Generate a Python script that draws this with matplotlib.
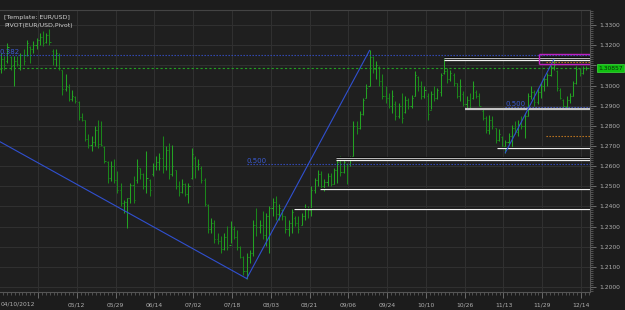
import matplotlib
matplotlib.use('Agg')
import matplotlib.pyplot as plt
from matplotlib.ticker import MultipleLocator, FixedLocator
from matplotlib.transforms import blended_transform_factory
import numpy as np

# ---------------- data (EUR/USD daily OHLC) ----------------
opens = [1.3080, 1.3130, 1.3120, 1.3140, 1.3100, 1.3120, 1.3100, 1.3150, 1.3150, 1.3190,
         1.3180, 1.3200, 1.3225, 1.3240, 1.3215, 1.3250, 1.3170, 1.3130, 1.3150, 1.3075,
         1.2985, 1.2995, 1.2935, 1.2945, 1.2920, 1.2845, 1.2828, 1.2735, 1.2705, 1.2720,
         1.2780, 1.2710, 1.2695, 1.2620, 1.2540, 1.2600, 1.2530, 1.2480, 1.2415, 1.2420,
         1.2440, 1.2505, 1.2530, 1.2590, 1.2560, 1.2500, 1.2530, 1.2560, 1.2600, 1.2620,
         1.2640, 1.2600, 1.2680, 1.2560, 1.2580, 1.2500, 1.2470, 1.2510, 1.2460, 1.2540,
         1.2640, 1.2600, 1.2590, 1.2530, 1.2405, 1.2290, 1.2320, 1.2240, 1.2230, 1.2190,
         1.2250, 1.2210, 1.2290, 1.2250, 1.2200, 1.2150, 1.2080, 1.2150, 1.2170, 1.2310,
         1.2300, 1.2310, 1.2260, 1.2350, 1.2390, 1.2420, 1.2360, 1.2380, 1.2350, 1.2290,
         1.2320, 1.2340, 1.2320, 1.2310, 1.2350, 1.2390, 1.2380, 1.2480, 1.2530, 1.2560,
         1.2500, 1.2520, 1.2550, 1.2510, 1.2580, 1.2620, 1.2570, 1.2610, 1.2610, 1.2650,
         1.2800, 1.2790, 1.2860, 1.2940, 1.3000, 1.3140, 1.3080, 1.3090, 1.3020, 1.2950,
         1.2940, 1.2900, 1.2910, 1.2850, 1.2900, 1.2870, 1.2930, 1.2900, 1.2950, 1.3040,
         1.3000, 1.2950, 1.2950, 1.2880, 1.2960, 1.2940, 1.2970, 1.3060, 1.3070, 1.3030,
         1.3050, 1.3010, 1.2950, 1.2960, 1.2910, 1.2930, 1.2940, 1.2970, 1.2950, 1.2875,
         1.2840, 1.2780, 1.2830, 1.2790, 1.2730, 1.2745, 1.2700, 1.2720, 1.2750, 1.2790,
         1.2770, 1.2810, 1.2800, 1.2850, 1.2950, 1.2970, 1.2920, 1.2970, 1.3000, 1.3030,
         1.3050, 1.3090, 1.3070, 1.2980, 1.2930, 1.2900, 1.2930, 1.2950, 1.3010, 1.3080,
         1.3060, 1.3085]
highs = [1.3162, 1.3146, 1.3212, 1.3146, 1.3146, 1.3146, 1.3162, 1.3179, 1.3228, 1.3195,
         1.3220, 1.3237, 1.3261, 1.3270, 1.3261, 1.3281, 1.3179, 1.3179, 1.3162, 1.3079,
         1.3055, 1.3005, 1.2980, 1.2947, 1.2922, 1.2864, 1.2831, 1.2757, 1.2749, 1.2798,
         1.2831, 1.2823, 1.2699, 1.2625, 1.2625, 1.2633, 1.2575, 1.2517, 1.2434, 1.2443,
         1.2517, 1.2550, 1.2633, 1.2591, 1.2567, 1.2674, 1.2534, 1.2616, 1.2649, 1.2666,
         1.2749, 1.2699, 1.2716, 1.2707, 1.2583, 1.2525, 1.2534, 1.2517, 1.2517, 1.2691,
         1.2649, 1.2633, 1.2600, 1.2542, 1.2410, 1.2343, 1.2335, 1.2269, 1.2252, 1.2269,
         1.2302, 1.2327, 1.2302, 1.2285, 1.2203, 1.2153, 1.2170, 1.2186, 1.2335, 1.2393,
         1.2335, 1.2376, 1.2368, 1.2401, 1.2443, 1.2451, 1.2410, 1.2385, 1.2352, 1.2335,
         1.2385, 1.2352, 1.2352, 1.2368, 1.2410, 1.2401, 1.2500, 1.2542, 1.2583, 1.2575,
         1.2534, 1.2567, 1.2567, 1.2591, 1.2633, 1.2649, 1.2641, 1.2616, 1.2649, 1.2823,
         1.2823, 1.2873, 1.2939, 1.3005, 1.3174, 1.3146, 1.3121, 1.3096, 1.3055, 1.2997,
         1.2964, 1.2980, 1.2922, 1.2914, 1.2964, 1.2947, 1.2939, 1.2955, 1.3071, 1.3046,
         1.3022, 1.2997, 1.2964, 1.2972, 1.2997, 1.2988, 1.3063, 1.3137, 1.3088, 1.3079,
         1.3063, 1.3013, 1.3030, 1.2972, 1.2947, 1.2964, 1.3022, 1.2980, 1.2964, 1.2881,
         1.2848, 1.2856, 1.2848, 1.2790, 1.2782, 1.2749, 1.2732, 1.2765, 1.2806, 1.2823,
         1.2831, 1.2848, 1.2864, 1.2964, 1.2997, 1.2980, 1.2988, 1.3013, 1.3046, 1.3063,
         1.3104, 1.3129, 1.3079, 1.2988, 1.2931, 1.2947, 1.2964, 1.3022, 1.3096, 1.3088,
         1.3096, 1.3096]
lows = [1.3063, 1.3079, 1.3112, 1.3079, 1.2997, 1.3096, 1.3079, 1.3104, 1.3146, 1.3112,
        1.3162, 1.3179, 1.3203, 1.3195, 1.3212, 1.3203, 1.3104, 1.3096, 1.3079, 1.2955,
        1.2972, 1.2922, 1.2922, 1.2914, 1.2831, 1.2823, 1.2724, 1.2691, 1.2674, 1.2699,
        1.2691, 1.2699, 1.2616, 1.2517, 1.2525, 1.2517, 1.2467, 1.2401, 1.2368, 1.2294,
        1.2418, 1.2418, 1.2517, 1.2534, 1.2484, 1.2467, 1.2451, 1.2550, 1.2583, 1.2583,
        1.2567, 1.2583, 1.2534, 1.2550, 1.2484, 1.2451, 1.2467, 1.2451, 1.2418, 1.2534,
        1.2542, 1.2583, 1.2517, 1.2401, 1.2269, 1.2269, 1.2219, 1.2211, 1.2170, 1.2186,
        1.2186, 1.2219, 1.2236, 1.2186, 1.2145, 1.2062, 1.2042, 1.2120, 1.2153, 1.2252,
        1.2269, 1.2236, 1.2203, 1.2170, 1.2352, 1.2335, 1.2335, 1.2335, 1.2269, 1.2252,
        1.2269, 1.2302, 1.2269, 1.2310, 1.2335, 1.2343, 1.2352, 1.2467, 1.2500, 1.2484,
        1.2476, 1.2500, 1.2500, 1.2509, 1.2517, 1.2550, 1.2567, 1.2509, 1.2600, 1.2649,
        1.2757, 1.2782, 1.2856, 1.2939, 1.2997, 1.3063, 1.3030, 1.2997, 1.2931, 1.2914,
        1.2889, 1.2864, 1.2831, 1.2840, 1.2815, 1.2864, 1.2881, 1.2889, 1.2947, 1.2972,
        1.2931, 1.2939, 1.2831, 1.2881, 1.2922, 1.2931, 1.2947, 1.3055, 1.3013, 1.3022,
        1.2997, 1.2939, 1.2922, 1.2897, 1.2889, 1.2881, 1.2931, 1.2939, 1.2897, 1.2831,
        1.2765, 1.2757, 1.2782, 1.2716, 1.2724, 1.2691, 1.2666, 1.2707, 1.2691, 1.2757,
        1.2749, 1.2782, 1.2740, 1.2848, 1.2931, 1.2897, 1.2906, 1.2939, 1.2972, 1.2997,
        1.3046, 1.3079, 1.2972, 1.2931, 1.2881, 1.2889, 1.2914, 1.2947, 1.3005, 1.3046,
        1.3055, 1.3079]
closes = [1.3130, 1.3100, 1.3190, 1.3095, 1.3120, 1.3105, 1.3150, 1.3120, 1.3210, 1.3180,
          1.3200, 1.3225, 1.3240, 1.3210, 1.3250, 1.3215, 1.3130, 1.3160, 1.3085, 1.2985,
          1.3000, 1.2935, 1.2950, 1.2925, 1.2845, 1.2830, 1.2735, 1.2705, 1.2720, 1.2780,
          1.2710, 1.2705, 1.2625, 1.2540, 1.2600, 1.2530, 1.2480, 1.2415, 1.2420, 1.2440,
          1.2505, 1.2430, 1.2600, 1.2560, 1.2500, 1.2540, 1.2480, 1.2600, 1.2620, 1.2640,
          1.2600, 1.2680, 1.2560, 1.2600, 1.2500, 1.2470, 1.2510, 1.2460, 1.2500, 1.2660,
          1.2600, 1.2610, 1.2530, 1.2410, 1.2290, 1.2320, 1.2240, 1.2230, 1.2190, 1.2250,
          1.2200, 1.2300, 1.2250, 1.2200, 1.2150, 1.2080, 1.2150, 1.2170, 1.2310, 1.2300,
          1.2310, 1.2260, 1.2350, 1.2390, 1.2420, 1.2360, 1.2390, 1.2350, 1.2290, 1.2320,
          1.2370, 1.2320, 1.2290, 1.2350, 1.2390, 1.2380, 1.2480, 1.2530, 1.2560, 1.2500,
          1.2520, 1.2550, 1.2510, 1.2580, 1.2620, 1.2570, 1.2620, 1.2600, 1.2640, 1.2800,
          1.2790, 1.2860, 1.2930, 1.2990, 1.3140, 1.3080, 1.3100, 1.3020, 1.2950, 1.2940,
          1.2900, 1.2950, 1.2850, 1.2900, 1.2840, 1.2930, 1.2900, 1.2940, 1.3050, 1.3000,
          1.2950, 1.2980, 1.2860, 1.2960, 1.2940, 1.2980, 1.3050, 1.3070, 1.3030, 1.3060,
          1.3010, 1.2950, 1.3000, 1.2910, 1.2930, 1.2890, 1.3000, 1.2950, 1.2900, 1.2840,
          1.2780, 1.2830, 1.2800, 1.2730, 1.2760, 1.2700, 1.2720, 1.2750, 1.2790, 1.2770,
          1.2810, 1.2800, 1.2850, 1.2950, 1.2970, 1.2920, 1.2970, 1.3000, 1.3030, 1.3050,
          1.3090, 1.3100, 1.2990, 1.2940, 1.2900, 1.2930, 1.2950, 1.3010, 1.3080, 1.3060,
          1.3085, 1.30857]

# x-axis date ticks (bar index) and labels
date_tick_pos = [11.44, 23.44, 35.44, 47.44, 59.44, 71.44, 83.44, 95.44, 107.44,
                 119.44, 131.44, 143.44, 155.44, 167.44, 179.44]
date_tick_labels = ['', '05/12', '05/29', '06/14', '07/02', '07/18', '08/03', '08/21',
                    '09/06', '09/24', '10/10', '10/26', '11/13', '11/29', '12/14']
first_date_label = '04/10/2012'

price_ticks = [1.20, 1.21, 1.22, 1.23, 1.24, 1.25, 1.26, 1.27, 1.28, 1.29, 1.30,
               1.31, 1.32, 1.33]
price_tick_labels = ['1.2000', '1.2100', '1.2200', '1.2300', '1.2400', '1.2500',
                     '1.2600', '1.2700', '1.2800', '1.2900', '1.3000', '',
                     '1.3200', '1.3300']

# Fibonacci trend lines: (start index, start price) -> (end index, end price)
trend_x0 = [-12, 76, 156]
trend_p0 = [1.2825, 1.2042, 1.2666]
trend_x1 = [76, 114, 171]
trend_p1 = [1.2042, 1.3174, 1.3129]

# Fibonacci levels: (start index, price, label)
fib_start = [-0.31, 76, 156]
fib_price = [1.3151, 1.2608, 1.2892]
fib_label = ['0.382', '0.500', '0.500']

# Pivot support/resistance lines: start index, price, colour, width
sr_start = [137, 137, 143.5, 153.4, 103.6, 103.6, 98.7, 90.6]
sr_price = [1.3135, 1.3126, 1.2882, 1.2690, 1.2639, 1.2628, 1.2486, 1.2386]
sr_color = ['#b8b8b8', '#f0f0f0', '#c4c4c4', '#f0f0f0', '#b8b8b8', '#f0f0f0',
            '#f0f0f0', '#f0f0f0']
sr_width = [0.8, 0.9, 1.6, 0.9, 0.8, 0.9, 0.9, 0.9]

# Pivot box and orange levels
box_start = 166.4
box_low, box_high = 1.3105, 1.3156
orange_start = 168.6
orange_price = [1.3118, 1.2751]

legend_lines = ['[Template: EUR/USD]', 'PIVOT(EUR/USD,Pivot)']

# ---------------- figure ----------------
W, H = 625, 310
fig = plt.figure(figsize=(W / 100, H / 100), dpi=100, facecolor='#1c1c1c')
ax = fig.add_axes([0, 1 - 292 / H, 590 / W, (292 - 10) / H])
ax.set_facecolor('#1f1f1f')
ax.set_xlim(-0.31, 182.2)
ax.set_ylim(1.19752, 1.33747)

# grid / ticks
ax.xaxis.set_major_locator(FixedLocator(date_tick_pos))
ax.set_xticklabels(date_tick_labels)
ax.xaxis.set_minor_locator(MultipleLocator(1.2, offset=-0.56))
ax.yaxis.tick_right()
ax.set_yticks(price_ticks)
ax.set_yticklabels(price_tick_labels)
ax.yaxis.set_minor_locator(MultipleLocator(0.001))
ax.grid(True, which='major', color='#313131', lw=0.7)
ax.set_axisbelow(True)

ax.spines['left'].set_visible(False)
ax.spines['top'].set_color('#444444')
ax.spines['right'].set_color('#555555')
ax.spines['bottom'].set_color('#555555')
for s in ['top', 'right', 'bottom']:
    ax.spines[s].set_linewidth(0.8)

ax.tick_params(axis='x', which='major', length=4, width=0.6, color='#777777',
               labelsize=4.3, labelcolor='#b0b0b0', pad=3.5)
ax.tick_params(axis='x', which='minor', length=2, width=0.5, color='#666666')
ax.tick_params(axis='y', which='major', length=4.5, width=0.6, color='#777777',
               labelsize=4.3, labelcolor='#b0b0b0', pad=2.5)
ax.tick_params(axis='y', which='minor', length=2, width=0.5, color='#666666')

fig.text(1 / W, 1 - 304 / H, first_date_label, fontsize=4.3, color='#b0b0b0',
         ha='left', va='center')

# ---------------- OHLC bars ----------------
x = np.arange(len(closes))
o = np.array(opens); h = np.array(highs); l = np.array(lows); c = np.array(closes)
cols = np.where(c >= o, '#23a323', '#1b861b')
ax.vlines(x, l, h, colors=cols, lw=0.75, zorder=3)
ax.hlines(o, x - 0.33, x, colors=cols, lw=0.75, zorder=3)
ax.hlines(c, x, x + 0.33, colors=cols, lw=0.75, zorder=3)

xmax = 182.2

# Pivot S/R lines (with dark shadow above)
for s0, p, col, w in zip(sr_start, sr_price, sr_color, sr_width):
    ax.hlines(p + 0.0005, s0, xmax, colors='#050505', lw=0.8, zorder=4)
    ax.hlines(p, s0, xmax, colors=col, lw=w, zorder=5)

# fib levels
for s0, p, lab in zip(fib_start, fib_price, fib_label):
    ax.hlines(p, s0, xmax, colors='#3550c8', lw=0.8, linestyles=(0, (1.2, 1.5)), zorder=4)
    ax.text(s0, p + 0.0002, lab, fontsize=5.0, color='#3a5ad0', ha='left', va='bottom',
            zorder=6, clip_on=True)

# current price line
ax.axhline(c[-1], color='#22a022', lw=0.8, ls=(0, (2, 2)), zorder=4)

# orange levels
for p in orange_price:
    ax.hlines(p, orange_start, xmax, colors='#d08020', lw=0.8,
              linestyles=(0, (1.2, 1.5)), zorder=6)

# magenta pivot box
ax.hlines([box_low, box_high], box_start, xmax, colors='#c020c0', lw=1.0, zorder=6)
ax.vlines(box_start, box_low, box_high, colors='#c020c0', lw=1.0, zorder=6)

# fibonacci trend lines
for x0, p0, x1, p1 in zip(trend_x0, trend_p0, trend_x1, trend_p1):
    ax.plot([x0, x1], [p0, p1], color='#3050d0', lw=0.8, zorder=5)

# legend text
for k, t in enumerate(legend_lines):
    fig.text(4 / W, 1 - (17 + 8 * k) / H, t, fontsize=4.5, color='#cfcfcf',
             ha='left', va='center')

# current price label box
tr = blended_transform_factory(ax.transAxes, ax.transData)
ax.text(1.0 + 8 / 590, c[-1], '%.5f' % c[-1], transform=tr, fontsize=4.3,
        color='#0a2a0a', ha='left', va='center', clip_on=False, zorder=10,
        bbox=dict(boxstyle='square,pad=0.25', fc='#10c010', ec='#40e040', lw=0.5))

fig.savefig('out.png', dpi=100, facecolor=fig.get_facecolor())
